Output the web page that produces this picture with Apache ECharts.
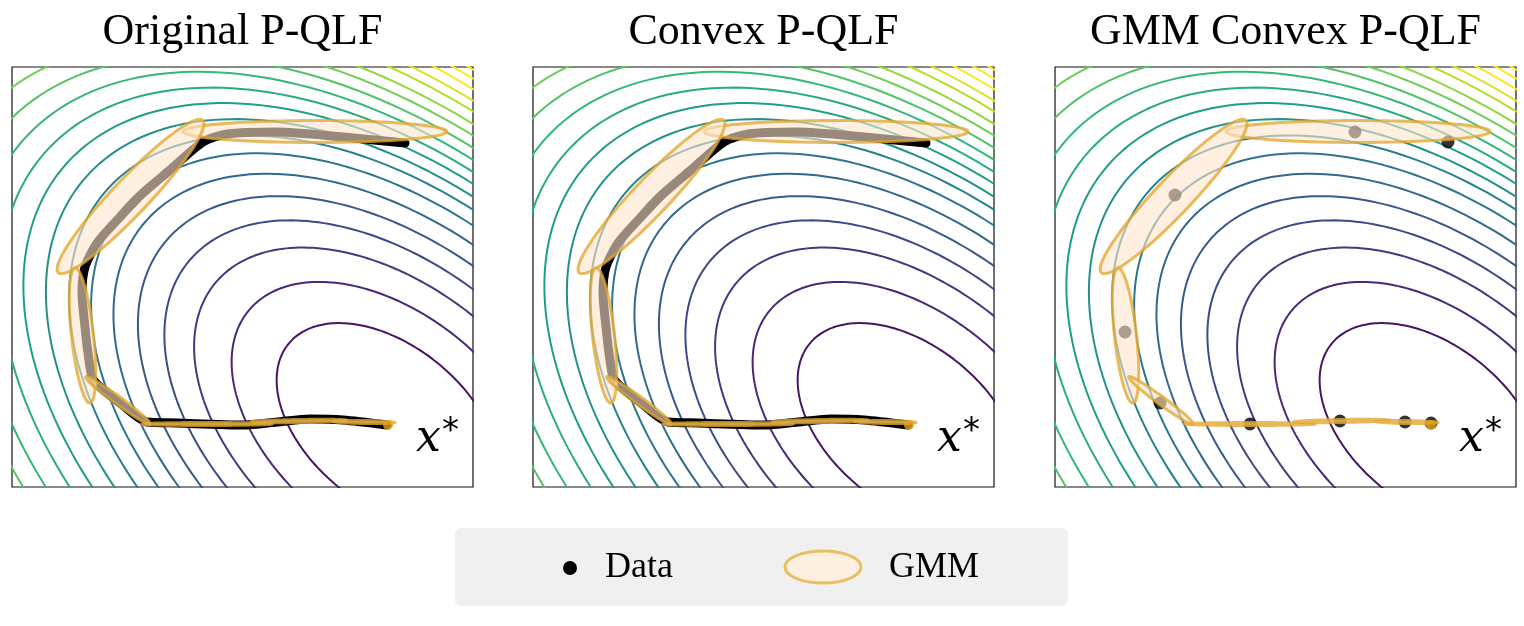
<!DOCTYPE html>
<html><head><meta charset="utf-8">
<script src="https://cdn.jsdelivr.net/npm/echarts@6/dist/echarts.min.js"></script>
<style>html,body{margin:0;padding:0;background:#fff}#c{width:1524px;height:626px}</style>
</head><body><div id="c"></div><script>
// ---------- data ----------
const panelTitles = ['Original P-QLF', 'Convex P-QLF', 'GMM Convex P-QLF'];
const xRange = [0, 461];
const yRange = [0, 420];
const xStar = [376, 62];
// Lyapunov-function level sets: unit ellipse (semi-axes, angle) around x*
const lfMajor = 128.8, lfMinor = 79.6, lfAngle = -39.3;
const lfShiftDir = [-0.85, -0.53];
const levelScale = [0.997, 1.40, 1.736, 2.002, 2.239, 2.458, 2.658, 2.842, 3.021, 3.196, 3.369, 3.549, 3.723, 3.90, 4.07, 4.25, 4.41, 4.58, 4.74, 4.88];
const levelShift = [0, 0, 0, 0, 0, 0, 0, 1.7, 5.5, 9, 13.2, 18, 22.2, 26.5, 30.8, 35, 39.3, 43.6, 48, 52];
const levelColorSpan = 18;
// demonstration trajectory (dense data)
const trajX = [393, 331, 265, 215, 191, 158, 131, 108, 85, 73, 70, 73, 76, 80, 86, 108, 135, 165, 231, 265, 298, 331, 375];
const trajY = [344, 350, 355, 353, 345, 317, 294, 270, 244, 220, 194, 160, 134, 110, 102, 84, 65, 64, 62, 65, 68, 67, 62];
// sparse data (third panel)
const sparseX = [393, 300, 120, 70, 105, 195, 285, 350, 376];
const sparseY = [345, 355, 292, 155, 84, 63, 66, 65, 64];
// GMM components: centre, semi-axes, angle (deg)
const gmmCx = [303, 118.5, 70.5, 106, 195, 287, 352];
const gmmCy = [355.5, 290.5, 151.5, 86.5, 63, 66, 65];
const gmmA = [132, 105, 68, 40, 65, 48, 31];
const gmmB = [11, 18, 11, 4, 1.5, 1.5, 1.5];
const gmmAngle = [0, 46.5, 96.3, -36.3, 0, 1, -1];
const viridisStops = ['#440154', '#482878', '#3e4989', '#31688e', '#26828e', '#1f9e89', '#35b779', '#6ece58', '#b5de2b', '#fde725'];

// ---------- helpers ----------
function hex2rgb(h) { return [parseInt(h.slice(1, 3), 16), parseInt(h.slice(3, 5), 16), parseInt(h.slice(5, 7), 16)]; }
function viridis(t) {
  const p = Math.max(0, Math.min(1, t)) * (viridisStops.length - 1);
  const i = Math.min(Math.floor(p), viridisStops.length - 2), f = p - i;
  const a = hex2rgb(viridisStops[i]), b = hex2rgb(viridisStops[i + 1]);
  return 'rgb(' + a.map((v, j) => Math.round(v + (b[j] - v) * f)).join(',') + ')';
}
function levelCurve(k) {
  const th = lfAngle * Math.PI / 180;
  const u1 = [Math.cos(th), Math.sin(th)], u2 = [-Math.sin(th), Math.cos(th)];
  const s = levelScale[k], m = levelShift[k];
  const cx = xStar[0] + m * lfShiftDir[0], cy = xStar[1] + m * lfShiftDir[1];
  const pts = [];
  for (let i = 0; i <= 240; i++) {
    const t = i / 240 * 2 * Math.PI;
    const ea = s * lfMajor * Math.cos(t), eb = s * lfMinor * Math.sin(t);
    pts.push([cx + ea * u1[0] + eb * u2[0], cy + ea * u1[1] + eb * u2[1]]);
  }
  return pts;
}
const gmmData = gmmCx.map((c, i) => [c, gmmCy[i], gmmA[i], gmmB[i], gmmAngle[i]]);
function renderEllipse(params, api) {
  const cx = api.value(0), cy = api.value(1), a = api.value(2), b = api.value(3), ang = api.value(4) * Math.PI / 180;
  const pts = [];
  for (let i = 0; i < 120; i++) {
    const t = i / 120 * 2 * Math.PI;
    const ex = a * Math.cos(t), ey = b * Math.sin(t);
    pts.push(api.coord([cx + ex * Math.cos(ang) - ey * Math.sin(ang), cy + ex * Math.sin(ang) + ey * Math.cos(ang)]));
  }
  return { type: 'polygon', shape: { points: pts }, style: { fill: 'rgba(253,228,204,0.6)', stroke: 'rgba(226,168,48,0.78)', lineWidth: 3 } };
}

// ---------- layout ----------
const gridLeft = [12, 533, 1055];
const gridTop = 67, gridW = 461, gridH = 420;
const grids = [], xAxes = [], yAxes = [], series = [], graphics = [];
const nLevels = levelScale.length;
for (let p = 0; p < 3; p++) {
  grids.push({ left: gridLeft[p], top: gridTop, width: gridW, height: gridH, show: true, borderColor: '#111', borderWidth: 1.2, backgroundColor: 'transparent' });
  xAxes.push({ gridIndex: p, type: 'value', min: xRange[0], max: xRange[1], show: false });
  yAxes.push({ gridIndex: p, type: 'value', min: yRange[0], max: yRange[1], show: false });
  for (let k = 0; k < nLevels; k++) {
    series.push({ type: 'line', xAxisIndex: p, yAxisIndex: p, data: levelCurve(k), showSymbol: false, symbol: 'none', clip: true, silent: true, z: 1,
      lineStyle: { color: viridis((k + 1) / levelColorSpan), width: 2 } });
  }
  if (p < 2) {
    series.push({ type: 'line', xAxisIndex: p, yAxisIndex: p, data: trajX.map((x, i) => [x, trajY[i]]), symbol: 'none', smooth: 0.25, z: 2, silent: true,
      lineStyle: { color: '#000', width: 9, cap: 'round', join: 'round' } });
  } else {
    series.push({ type: 'scatter', xAxisIndex: p, yAxisIndex: p, data: sparseX.map((x, i) => [x, sparseY[i]]), symbolSize: 13, z: 2, silent: true,
      itemStyle: { color: '#000' } });
  }
  series.push({ type: 'custom', xAxisIndex: p, yAxisIndex: p, data: gmmData, renderItem: renderEllipse, z: 3, silent: true, encode: { x: 0, y: 1 } });
  series.push({ type: 'scatter', xAxisIndex: p, yAxisIndex: p, data: [xStar], symbolSize: 10, z: 4, silent: true, itemStyle: { color: '#e3a01c' } });
  const cxTitle = gridLeft[p] + gridW / 2;
  graphics.push({ type: 'text', z: 10, style: { text: panelTitles[p], x: cxTitle, y: 32, font: '44px "Liberation Serif"', fill: '#000', align: 'center', verticalAlign: 'middle', textAlign: 'center', textVerticalAlign: 'middle' } });
  graphics.push({ type: 'text', z: 10, style: { text: 'x', x: gridLeft[p] + 404, y: 440, font: 'italic 44px "DejaVu Serif"', fill: '#000', align: 'left', verticalAlign: 'middle', textAlign: 'left', textVerticalAlign: 'middle' } });
  graphics.push({ type: 'text', z: 10, style: { text: '*', x: gridLeft[p] + 430, y: 432, font: '34px "DejaVu Sans"', fill: '#000', align: 'left', verticalAlign: 'middle', textAlign: 'left', textVerticalAlign: 'middle' } });
}
// legend
graphics.push({ type: 'rect', z: 5, shape: { x: 455, y: 528, width: 613, height: 78, r: 6 }, style: { fill: '#f0f0f0' } });
graphics.push({ type: 'circle', z: 6, shape: { cx: 570, cy: 568, r: 7 }, style: { fill: '#000' } });
graphics.push({ type: 'text', z: 6, style: { text: 'Data', x: 605, y: 568, font: '36px "Liberation Serif"', fill: '#000', align: 'left', verticalAlign: 'middle', textAlign: 'left', textVerticalAlign: 'middle' } });
graphics.push({ type: 'ellipse', z: 6, shape: { cx: 823, cy: 567, rx: 38, ry: 16 }, style: { fill: '#fdf0e0', stroke: '#e8c062', lineWidth: 3 } });
graphics.push({ type: 'text', z: 6, style: { text: 'GMM', x: 889, y: 568, font: '36px "Liberation Serif"', fill: '#000', align: 'left', verticalAlign: 'middle', textAlign: 'left', textVerticalAlign: 'middle' } });

const chart = echarts.init(document.getElementById('c'), null, { renderer: 'canvas' });
chart.setOption({ animation: false, backgroundColor: '#fff', grid: grids, xAxis: xAxes, yAxis: yAxes, series: series, graphic: graphics });
</script></body></html>
